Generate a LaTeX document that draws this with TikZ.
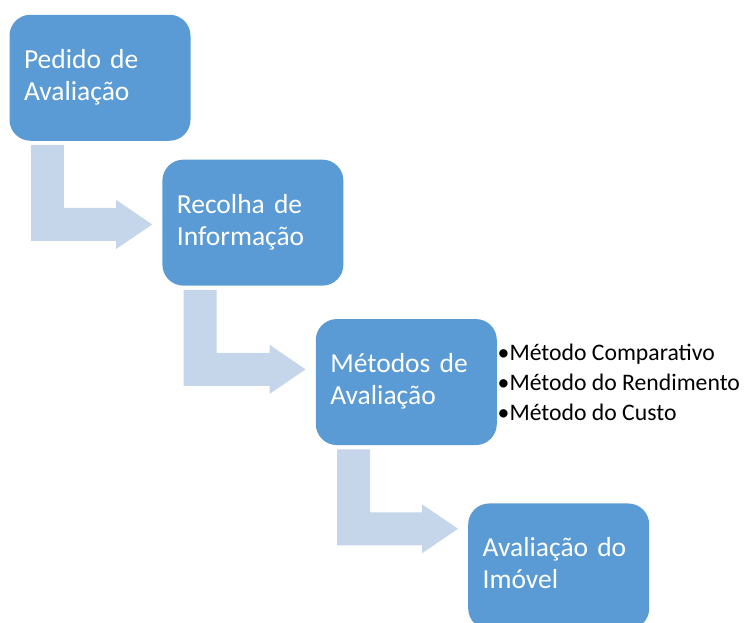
\documentclass[tikz,border=0pt]{standalone}
\usepackage{fontspec}
\setmainfont{Carlito}
\usetikzlibrary{calc,positioning}
\definecolor{stageblue}{HTML}{5B9BD5}
\definecolor{arrowblue}{HTML}{C5D5EA}

\begin{document}
\begin{tikzpicture}[
        x=1pt, y=-1pt,
        every node/.style={inner sep=0pt},
        stage/.style={fill=stageblue, rounded corners=21pt, minimum width=181pt, minimum height=126pt,
            text width=152pt, inner xsep=14.5pt, align=left, text=white,
            font=\fontsize{27.5}{32}\selectfont},
        bend arrow/.style={fill=arrowblue}
    ]
    \useasboundingbox (0,0) rectangle (744,622);
    \node [stage] (pedido) at (100,77.75) {\strut Pedido de\\Avaliação\strut};
    \node [stage, below right=18.5pt and -28.5pt of pedido.south east] (recolha) {\strut Recolha de\\Informação\strut};
    \node [stage, below right=33pt and -28pt of recolha.south east] (metodos) {\strut Métodos de\\Avaliação\strut};
    \node [stage, below right=58pt and -29pt of metodos.south east] (imovel) {\strut Avaliação do\\Imóvel\strut};
    \foreach \a/\b in {pedido/recolha, recolha/metodos, metodos/imovel} {
        \coordinate (\a-tip) at ($(\a.south -| \b.west)+(-10,83.5)$);
        \fill [bend arrow] ($(\a.south west)+(21.5,4)$) -- ++(33,0) |- ($(\a-tip)+(-36,-16.5)$)
            -- ++(0,-8) -- (\a-tip) -- ++(-36,24.5) -- ++(0,-8) -- ($(\a.south west)+(21.5,100)$) -- cycle;
    }
    \node [below right=20pt and 0.5pt of metodos.north east, align=left, font=\fontsize{23.7}{30}\selectfont] (metodos-lista)
        {\strut •Método Comparativo\\•Método do Rendimento\\•Método do Custo\strut};
\end{tikzpicture}
\end{document}
